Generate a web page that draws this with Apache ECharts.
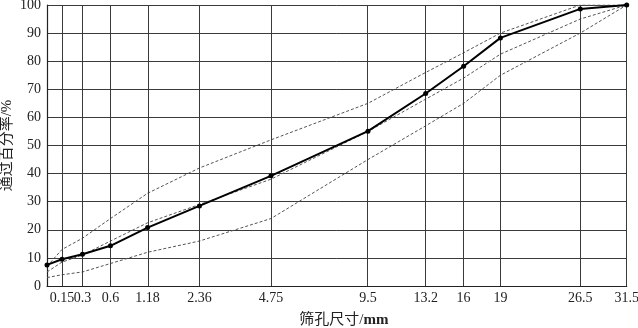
<!DOCTYPE html>
<html>
<head>
<meta charset="utf-8">
<script src="https://cdn.jsdelivr.net/npm/echarts@6/dist/echarts.min.js"></script>
<style>html,body{margin:0;padding:0;background:#fff}#c{width:638px;height:328px}</style>
</head>
<body>
<div id="c"></div>
<script>
const sieves = [0.075, 0.15, 0.3, 0.6, 1.18, 2.36, 4.75, 9.5, 13.2, 16, 19, 26.5, 31.5];
const tickLabels = ['', '0.15', '0.3', '0.6', '1.18', '2.36', '4.75', '9.5', '13.2', '16', '19', '26.5', '31.5'];
const passing = [7.5, 9.5, 11.3, 14.3, 20.8, 28.5, 39.2, 55.1, 68.5, 78.2, 88.3, 98.6, 100];
const upperLimit = [7, 13, 17, 24, 33, 42, 52, 65, 76, 83, 90, 100, 100];
const lowerLimit = [3, 4, 5, 8, 12, 16, 24, 45, 57, 65, 75, 90, 100];
const median = [5, 8.5, 11, 16, 22.5, 29, 38, 55, 66.5, 74, 82.5, 95, 100];

const P = 0.45;
const T = d => Math.pow(d, P);
const tx = sieves.map(T);
const pairs = arr => arr.map((v, i) => [tx[i], v]);
const labelFor = v => {
  let best = 0, bd = Infinity;
  tx.forEach((t, i) => { const d = Math.abs(t - v); if (d < bd) { bd = d; best = i; } });
  return tickLabels[best];
};

const serif = "'Liberation Serif', 'Times New Roman', 'Noto Sans CJK SC', serif";
const gridColor = '#3a3a3a';
const dashStyle = { color: '#555', width: 1, type: [3, 2] };
const labelStyle = { fontFamily: serif, fontSize: 14, color: '#222', margin: 5, hideOverlap: false, formatter: labelFor };

const chart = echarts.init(document.getElementById('c'), null, { renderer: 'canvas' });
chart.setOption({
  animation: false,
  backgroundColor: '#fff',
  grid: { left: 47, right: 11.3, top: 5, bottom: 42, containLabel: false, outerBoundsMode: 'none' },
  xAxis: [{
    type: 'value',
    min: tx[0],
    max: tx[tx.length - 1],
    name: '筛孔尺寸/{b|mm}',
    nameLocation: 'middle',
    nameGap: 27,
    nameMoveOverlap: false,
    nameTextStyle: {
      fontFamily: serif, fontSize: 15, color: '#222', padding: [0, 0, 0, 14],
      rich: { b: { fontFamily: serif, fontSize: 15, fontWeight: 'bold', color: '#222' } }
    },
    axisLine: { show: true, onZero: false, lineStyle: { color: '#222', width: 1.2 } },
    axisTick: { show: false },
    splitLine: { show: false },
    axisLabel: Object.assign({ customValues: tx.slice(2) }, labelStyle)
  }, {
    type: 'value',
    position: 'bottom',
    min: tx[0],
    max: tx[tx.length - 1],
    axisLine: { show: false },
    axisTick: { show: false },
    splitLine: { show: false },
    axisLabel: Object.assign({ customValues: [tx[1]] }, labelStyle)
  }],
  yAxis: {
    type: 'value',
    min: 0, max: 100, interval: 10,
    name: '通过百分率/%',
    nameLocation: 'middle',
    nameGap: 32,
    nameRotate: 90,
    nameMoveOverlap: false,
    nameTextStyle: { fontFamily: serif, fontSize: 15, color: '#222' },
    axisLine: { show: true, lineStyle: { color: '#222', width: 1.2 } },
    axisTick: { show: false },
    splitLine: { show: true, lineStyle: { color: gridColor, width: 1 } },
    axisLabel: { fontFamily: serif, fontSize: 14, color: '#222', margin: 6 }
  },
  series: [
    {
      type: 'line', data: [], silent: true,
      markLine: {
        silent: true, symbol: 'none', animation: false,
        label: { show: false },
        lineStyle: { color: gridColor, width: 1, type: 'solid' },
        data: tx.slice(1).map(t => ({ xAxis: t }))
      }
    },
    { type: 'line', data: pairs(upperLimit), symbol: 'none', lineStyle: dashStyle, z: 3 },
    { type: 'line', data: pairs(lowerLimit), symbol: 'none', lineStyle: dashStyle, z: 3 },
    { type: 'line', data: pairs(median), symbol: 'none', lineStyle: dashStyle, z: 3 },
    {
      type: 'line', data: pairs(passing), symbol: 'circle', symbolSize: 5,
      itemStyle: { color: '#000' }, lineStyle: { color: '#000', width: 2 }, z: 5
    }
  ]
});
</script>
</body>
</html>
